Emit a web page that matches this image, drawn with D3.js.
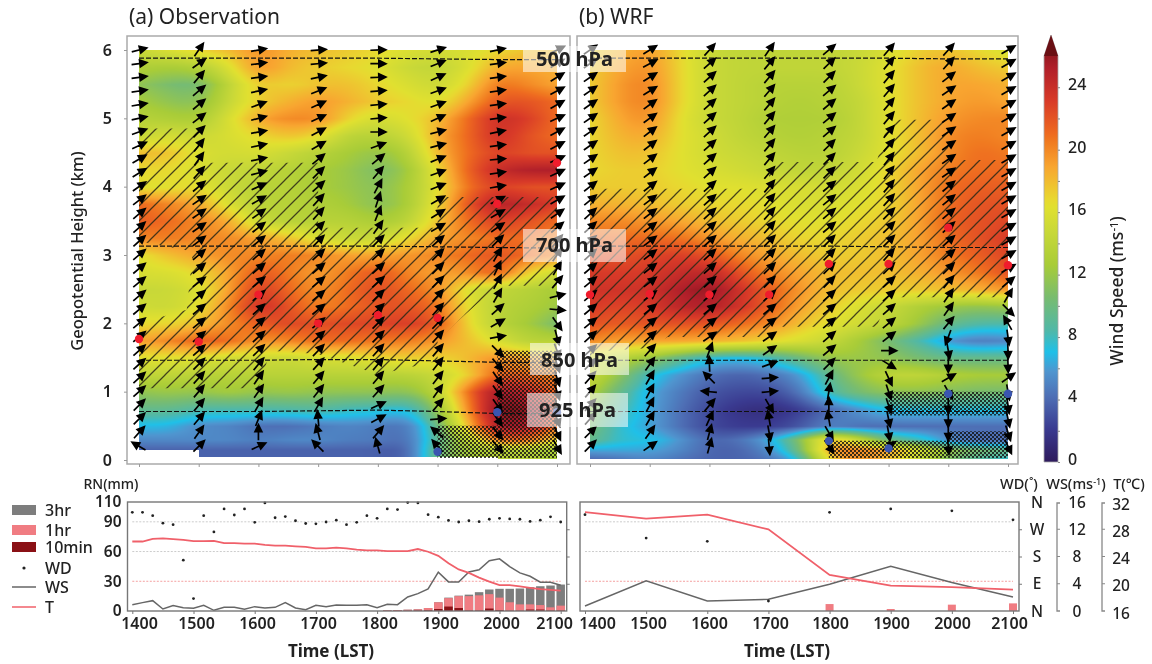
<!DOCTYPE html>
<html>
<head>
<meta charset="utf-8">
<script src="https://cdn.jsdelivr.net/npm/d3@7"></script>
<style>
	body { margin: 0; background: #fff; }
	#wrap { position: relative; width: 1152px; height: 664px; overflow: hidden; }
	canvas, svg { position: absolute; left: 0; top: 0; }
	text { font-family: "Noto Sans", "Open Sans", sans-serif; fill: #222; }
</style>
</head>
<body>
<div id="wrap">
	<canvas id="heat" width="1152" height="664"></canvas>
	<svg id="chart" width="1152" height="664"></svg>
</div>
<script>
// grid rows, top to bottom (km), columns every 30 min from 1400 to 2100
const GRID_HEIGHTS = [6, 5.75, 5.5, 5.25, 5, 4.75, 4.5, 4.25, 4, 3.75, 3.5, 3.25, 3, 2.75, 2.5, 2.25, 2, 1.75, 1.5, 1.25, 1, 0.75, 0.5, 0.3, 0.15, 0];

const OBS_SPEED = [
	[14,15,16,17,19,17.5,17,16.5,16,15,14.5,15,16,17,17],
	[12.5,12,12.5,15,19,17,16.5,16,15.5,14,13.5,15,18,18,17.5],
	[11,10,9.5,13.5,17,16,17,17,16,15,14,16,20,19,18],
	[12,11,10.5,14,16.5,17.5,18.5,17.5,16.5,16,15,18,21,21,20],
	[13,12.5,12,15,18,19,19,16,14.5,15.5,17,20,23,22,20],
	[14,15,14,15,16,17,16,13,13,14,18,20,23,21,20],
	[17,17,15,14.5,15,14,13,12,11,12.5,17.5,20,22,21,21],
	[16,16,15,14,13.5,13,12,11.5,10,11.5,16,20.5,23,24,24],
	[15.5,15.5,16,14,13,13,12,11.5,10.5,12,15.5,20,22,21,21],
	[20,19,18,15,13,13,12.5,12,10.5,12,16,21,24,23,22],
	[20.5,20,19,18,14,13,13,13,12,13,17,20,22,21,20],
	[19,19.5,19,19,18,17,15,14,14,16,18,19,20,20,19],
	[15.5,17,18,19,19,19.5,19,18,18,18.5,19,20,21,20,19],
	[15,15,16,18,21,19.5,18,19.5,21,19,18,18.5,21,16,14.5],
	[14,14,15,18,22.5,20,18.5,20,21.5,20,19,15,13.5,13,12],
	[14.5,14,15.5,19,23,21,19,20,21,21,20,15.5,13,12.5,11.5],
	[16,16,17,19,20.5,21.5,21,21.5,21.5,22,21,16,13,12,10],
	[18,19,20.5,20,18.5,19,20,20,19.5,19.5,18.5,17,15,13,13],
	[15.5,15.5,15.5,14.5,14.5,14,15,15,16,16.5,16,17,19,17.5,17.5],
	[13.5,13.5,13,13,13,13,13,13,13,13,14,16,21,20,19],
	[11,11.5,11,12,11,11.5,11,11,11,10.5,13,20,25,23,20],
	[9,9,8,8,8,8,8.5,7.5,7.5,6.5,11,19,26,25,21],
	[6.5,6.5,5,5,4,4,4.5,5,4.5,4,9,17,25,24,20],
	[5,5,5,5,4.5,5,5,4.5,4.5,3.5,9,13,20,20,16],
	[3.5,3.5,3.5,3.5,3.5,3.5,3.5,3.5,3.5,3,10,12,13,13,12],
	[3.5,3.5,3.5,3.5,3.5,3.5,3.5,3.5,3.5,3,10,12,13,13,12]
];

const WRF_SPEED = [
	[16,17.5,18.5,16,14,13.5,13.5,13.5,13.5,14,15,16.5,17,16,15],
	[16.5,18,19,16,14,13.5,13.5,13.5,13.5,14,15.5,17,18,17,16.5],
	[16.5,18.5,19.5,16,14,13.5,13,13,13,14,15.5,17,18,18,17.5],
	[16.5,18.5,19.5,16,14,13.5,13,12.5,13,13.5,15.5,17,18,18.5,18],
	[16,18,19,15.5,14,13.5,12.5,12.5,12.5,13.5,15.5,17,18.5,19,19],
	[16,17.5,18,15.5,14.5,13.5,13,12.5,13,13.5,15.5,17,19,19.5,19],
	[16,17,17,15.5,14.5,14,13.5,13,13,14,15.5,17,19,20,19.5],
	[16,16.5,16.5,15.5,15,14.5,14,13.5,13.5,14.5,16,18,19.5,20,20],
	[16.5,16.5,16.5,16,15.5,15.5,15,15,14.5,15,16,18,20,20.5,20.5],
	[17.5,17.5,17,16.5,16,16,15.5,15,15,15.5,16,18,20,21,21],
	[19,19,18.5,18,17,16.5,16,15.5,15.5,16,16.5,18,20.5,21,21.5],
	[20,20,20,20,18.5,17.5,17,16,16,16.5,17,18,20,21,22],
	[21,21,21.5,22,21,19,18,17,16.5,16.5,17,18,19.5,20.5,21.5],
	[22,22,22,23,23.5,21,19,18,17,17,17,17.5,18.5,19.5,21],
	[22.5,22.5,22.5,24,25,22.5,20.5,18.5,17,16.5,16.5,16.5,17,17.5,18.5],
	[22,21.5,22,23.5,24,22.5,20.5,18,16.5,15,14,12.5,11.5,11,11.5],
	[21,20.5,21,21,21,20,19,17,15.5,14.5,13.5,11.5,9,8,8],
	[19,18,18,18,17.5,17,16,15,14,12,10,8,5.5,4.5,5],
	[14.5,13,11.5,9,7,6.5,7.5,9.5,11.5,11.5,11,10,9,9,9],
	[14,11,7,5.5,4,3.5,4,5.5,9,11.5,13.5,13.5,12.5,12,12],
	[12.5,9,6,4.5,3,2.5,2.5,4,8,10,11,11,10.5,10,10],
	[11,8,6,4,2.5,1.5,1.2,2,4,5.5,7,7,7,7,7],
	[10,7,6,4,2.5,2,2,3,5,4,4,4,4,4,4],
	[9,7,7,5.5,3.5,4,6,10,18,14,9,8,5,4,4],
	[6,6,6,5,3.5,3.5,5,9,19,19,18,15,11,10,9],
	[3.5,4,5,4,3.5,3.5,4,6,17,19,17,14,10,8,7]
];

// wind arrows: one list per hour, bottom to top, screen angle in degrees
const OBS_WIND = [
	[150,48,45,45,42,42,42,42,40,40,40,40,40,40,40,42,42,40,38,35,32,30,25,20,12,10,8,8,8,15],
	[45,55,50,50,50,48,45,42,40,40,40,40,38,40,40,38,35,35,35,40,48,55,52,45,38,40,40,50,35,55],
	[25,90,68,60,55,55,50,45,42,42,42,40,40,40,40,40,38,36,30,25,15,12,12,10,15,20,12,8,8,10],
	[135,105,95,60,52,50,48,46,42,40,40,40,40,40,42,45,45,48,48,42,45,40,30,28,25,25,22,12,5,5],
	[105,50,28,25,48,50,50,48,45,45,45,45,42,42,42,45,55,68,72,62,50,40,20,0,5,5,5,2,0,2],
	[130,140,5,50,55,52,52,50,48,46,48,48,45,45,45,42,30,32,30,22,20,22,15,15,25,20,20,25,22,18],
	[-50,-52,-55,-55,-55,-55,-50,-45,10,30,42,60,62,65,60,45,35,30,28,10,8,5,8,12,8,8,8,8,8,12],
	[-60,-65,-70,-72,-72,-72,-72,-70,-75,-55,-5,15,50,60,55,50,40,35,30,25,25,25,28,28,25,30,28,32,32,25]
];

const WRF_WIND = [
	[45,45,48,48,50,48,45,42,42,40,40,40,40,40,42,42,42,42,40,38,35,35,35,35,35,35,35,35,35,35],
	[35,55,60,62,62,60,55,48,42,40,40,38,38,38,38,38,38,38,38,38,38,38,38,38,36,36,32,32,28,32],
	[75,75,65,50,175,135,92,70,35,38,40,40,42,42,42,42,42,42,42,42,42,42,42,42,42,42,42,42,42,48],
	[-85,-80,100,-60,5,5,20,35,35,38,40,42,45,45,45,45,48,48,50,50,50,50,50,50,50,50,50,50,50,55],
	[-55,-60,100,90,80,62,45,40,40,40,40,42,45,45,45,45,40,40,40,40,45,45,45,40,40,40,40,45,45,40],
	[35,-80,-78,-72,-72,-65,-32,0,38,40,42,42,42,45,48,45,45,45,48,50,52,52,50,50,50,50,50,50,50,50],
	[-85,-90,-90,-90,-60,30,-90,-80,-110,50,55,55,50,45,40,42,42,40,40,40,35,35,35,35,35,35,35,38,48,48],
	[-65,-72,-78,-82,-80,35,-88,-88,-82,120,-45,60,40,30,30,30,30,30,30,30,30,30,30,30,30,30,30,30,30,30]
];

const HOURS = [1400, 1500, 1600, 1700, 1800, 1900, 2000, 2100];

// max wind speed height and the low level jet height
const OBS_RED = [1.77, 1.73, 2.42, 2.0, 2.12, 2.08, 3.75, 4.35];
const WRF_RED = [2.42, 2.43, 2.42, 2.42, 2.87, 2.87, 3.4, 2.85];
const OBS_BLUE = [[1900, 0.12], [2000, 0.7], [2100, 0.7]];
const WRF_BLUE = [[1800, 0.28], [1900, 0.17], [2000, 0.97], [2100, 0.97]];

// pressure levels
const LEVEL_NAMES = ["500 hPa", "700 hPa", "850 hPa", "925 hPa"];
const OBS_LEVELS = [
	[5.88,5.88,5.88,5.88,5.88,5.87,5.86,5.86],
	[3.13,3.13,3.13,3.13,3.13,3.12,3.11,3.1],
	[1.46,1.46,1.46,1.47,1.47,1.45,1.43,1.43],
	[0.71,0.71,0.71,0.72,0.73,0.71,0.68,0.68]
];
const WRF_LEVELS = [
	[5.88,5.88,5.88,5.88,5.88,5.88,5.87,5.87],
	[3.13,3.13,3.13,3.13,3.13,3.12,3.11,3.11],
	[1.46,1.46,1.46,1.46,1.46,1.46,1.46,1.46],
	[0.71,0.71,0.71,0.71,0.71,0.71,0.71,0.71]
];

// hatched areas [time, km]
const OBS_JET = [[1400,1.05],[1400,2.0],[1480,2.2],[1490,3.05],[1400,3.2],[1400,4.85],[1500,4.85],[1500,4.35],[1700,4.35],[1700,3.4],[1900,3.4],[1900,3.85],[2100,3.85],[2100,2.55],[2000,2.55],[1930,2.0],[1900,1.75],[1900,1.45],[1800,1.25],[1700,1.55],[1620,1.6],[1600,1.05]];
const WRF_JET = [[1400,1.5],[1400,3.97],[1700,3.97],[1700,4.36],[1880,4.36],[1900,4.98],[2000,4.98],[2000,4.39],[2100,4.39],[2100,2.38],[1900,2.38],[1880,1.95],[1720,1.95],[1700,1.8],[1530,1.8],[1500,1.64],[1430,1.6]];
const OBS_LLJ = [[[1900,0.03],[1900,0.5],[2000,0.5],[2000,1.6],[2100,1.6],[2100,0.03]]];
const WRF_LLJ = [
	[[1800,0.03],[1800,0.28],[2000,0.28],[2000,0.42],[2100,0.42],[2100,0.03]],
	[[1900,0.65],[1900,1.0],[2100,1.0],[2100,0.65]]
];

// surface obs, every 10 min from 1400
const OBS_WD = [326,326,315,290,285,168,41,315,261,337,317,337,293,357,308,312,298,289,288,294,300,285,293,315,306,337,335,358,357,318,310,299,294,298,295,303,306,304,303,296,300,311,294];
const OBS_WS = [0.93,1.23,1.52,0.29,0.79,0.49,0.39,0.83,0.1,0.54,0.54,0.25,0.64,0.44,0.54,1.23,0.44,0.2,0.83,0.64,0.88,0.83,0.83,0.93,0.49,0.98,0.93,2.06,2.55,3.24,5.7,4.27,4.27,5.74,6.04,7.37,7.66,6.53,5.6,5.1,4.22,4.22,3.78];
const OBS_T = [26.2,26.2,26.6,26.65,26.55,26.45,26.25,26.25,26.3,25.96,25.96,25.9,25.9,25.7,25.6,25.6,25.5,25.4,25.2,25.2,25.3,25.2,25,24.9,24.9,24.8,24.8,24.8,25.1,24.7,24.1,23,22.1,21.6,20.9,20.3,19.8,19.8,19.6,19.4,19.2,19.1,19];
// rain starts at 1810
const RAIN_3HR = [0.7,1,1.3,1.7,3,8.8,13.5,15.5,16.5,19,21.7,22.4,22.4,22.7,24,25,25.7,26.7];
const RAIN_1HR = [0.7,1,1.3,1.7,3,8.8,13,15,15,15.8,17,13.5,8.8,6.7,6.7,6,3.7,5.4];
const RAIN_10MIN = [0.2,0.3,0.3,0.5,0.8,2,4.5,3,0.5,0.5,2.5,1,0.3,0.3,1.5,1.5,0.5,0.5];

// WRF surface, hourly
const WRF_WD = [318,241,230,33,326,337,331,301];
const WRF_WS = [0.74,4.42,1.47,1.72,3.93,6.58,4.17,2.06];
const WRF_T = [30.5,29.55,30.15,27.98,21.3,19.73,19.49,19.14];
const WRF_RAIN = [0,0,0,0,7,2,6.4,7.7];

const COLOR_STOPS = [0, 2, 4, 5.5, 6.7, 8, 10, 12, 14, 15.5, 16, 18, 19.5, 20, 22, 24, 26];
const COLORS = ["#2e1a5c","#3a3a90","#4e6fb5","#4f95cf","#1fc0e8","#50b8a8","#78bc70","#a8cc38","#c8d838","#e0e030","#e8d830","#f8a530","#f07a20","#ee6a20","#d83a28","#b01f2a","#6a0f14"];
const SPEED_COLOR = d3.scaleLinear().domain(COLOR_STOPS).range(COLORS).clamp(true);

const RN_TICKS = [0, 30, 60, 90, 110];
const COLORBAR_TICKS = [0, 4, 8, 12, 16, 20, 24];
const COMPASS = ["N", "E", "S", "W", "N"];

const svg = d3.select("#chart");
const ctx = document.getElementById("heat").getContext("2d");

const defs = svg.append("defs");
const jetPattern = defs.append("pattern")
	.attr("id", "jetHatch")
	.attr("patternUnits", "userSpaceOnUse")
	.attr("width", 15).attr("height", 15);
jetPattern.append("path")
	.attr("d", "M-2,17 L17,-2 M-2,2 L2,-2 M13,17 L17,13")
	.attr("stroke", "#2a2716").attr("stroke-width", 1.25).attr("opacity", 0.85);
const lljPattern = defs.append("pattern")
	.attr("id", "lljHatch")
	.attr("patternUnits", "userSpaceOnUse")
	.attr("width", 4).attr("height", 4);
lljPattern.append("path").attr("d", "M0,0h2v2h-2z M2,2h2v2h-2z").attr("fill", "#111").attr("opacity", 0.8);

function drawHeat(grid, x, y, floorOf) {
	const rows = grid.map((row) => d3.interpolateBasis(row));
	const [x0, x1] = x.range();
	const hs = GRID_HEIGHTS.slice().reverse();
	const left = Math.round(x0), right = Math.round(x1);
	const top = Math.round(y(6)), bottom = Math.round(y(0));
	const img = ctx.createImageData(right - left, bottom - top);
	for (let px = left; px < right; px++) {
		const t = (px - x0) / (x1 - x0);
		const col = rows.map((f) => f(t)).reverse();
		const floor = floorOf(x.invert(px));
		for (let py = top; py < bottom; py++) {
			const h = y.invert(py);
			if (h < floor) continue;
			const i = Math.min(Math.max(d3.bisectRight(hs, h), 1), hs.length - 1);
			const a = Math.min((h - hs[i - 1]) / (hs[i] - hs[i - 1]), 1);
			const c = d3.rgb(SPEED_COLOR(col[i - 1] + (col[i] - col[i - 1]) * a));
			const k = ((py - top) * (right - left) + (px - left)) * 4;
			img.data[k] = c.r; img.data[k + 1] = c.g; img.data[k + 2] = c.b; img.data[k + 3] = 255;
		}
	}
	ctx.putImageData(img, left, top);
}

function drawUpper(p) {
	const x = d3.scaleLinear().domain([1400, 2100]).range(p.xRange);
	const y = d3.scaleLinear().domain([0, 6]).range([460, 50]);
	const g = svg.append("g");

	drawHeat(p.grid, x, y, p.floorOf);

	g.append("rect").attr("x", p.frame[0]).attr("y", 36)
		.attr("width", p.frame[1] - p.frame[0]).attr("height", 428)
		.attr("fill", "none").attr("stroke", "#aaa").attr("stroke-width", 1.5);

	const poly = d3.line().x((d) => x(d[0])).y((d) => y(d[1]));
	g.append("path").attr("d", poly(p.jet) + "Z").attr("fill", "url(#jetHatch)");
	p.llj.forEach((area) => {
		g.append("path").attr("d", poly(area) + "Z").attr("fill", "url(#lljHatch)");
	});

	// pressure levels
	p.levels.forEach((lvl) => {
		g.append("path")
			.attr("d", d3.line().x((d, i) => x(HOURS[i])).y((d) => y(d))(lvl))
			.attr("fill", "none").attr("stroke", "#111").attr("stroke-width", 1.2)
			.attr("stroke-dasharray", "5,2");
	});

	// wind arrows
	p.wind.forEach((column, c) => {
		column.forEach((angle, r) => {
			const cx = x(HOURS[c]);
			const cy = y(0.2 + 0.2 * r);
			g.append("path")
				.attr("d", "M-7.5,0 L2,0 M1,-3.4 L8,0 L1,3.4 Z")
				.attr("transform", "translate(" + cx + "," + cy + ") rotate(" + (-angle) + ")")
				.attr("stroke", "#000").attr("stroke-width", 1.7).attr("fill", "#000");
		});
	});

	// jet core points
	g.selectAll(".red").data(p.red).join("circle")
		.attr("cx", (d, i) => x(HOURS[i])).attr("cy", (d) => y(d))
		.attr("r", 4.2).attr("fill", "#f01c2c");
	g.selectAll(".blue").data(p.blue).join("circle")
		.attr("cx", (d) => x(d[0])).attr("cy", (d) => y(d[1]))
		.attr("r", 4.2).attr("fill", "#3a55b0");

	// ticks
	const xAxis = d3.axisBottom(x).tickValues(HOURS).tickSize(3).tickFormat("");
	const ax = g.append("g").attr("transform", "translate(0,464)").call(xAxis);
	ax.select(".domain").remove();
	ax.selectAll("line").attr("stroke", "#999");
	if (p.showY) {
		const yAxis = d3.axisLeft(y).ticks(6).tickSize(3).tickPadding(12).tickFormat(d3.format("d"));
		const ay = g.append("g").attr("transform", "translate(" + p.frame[0] + ",0)").call(yAxis);
		ay.select(".domain").remove();
		ay.selectAll("line").attr("stroke", "#999");
		ay.selectAll("text").attr("font-size", 16).attr("font-weight", 600).style("font-family", "'Noto Sans'");
	}
}

function drawLower(p) {
	const x = d3.scaleLinear().domain([1400, 2100]).range(p.xRange);
	const minutes = (i) => 1400 + i * (p.step / 60) * 100;
	const yRn = d3.scaleLinear().domain([0, 110]).range([611, 502]);
	const yWd = d3.scaleLinear().domain([0, 360]).range([611, 502]);
	const yWs = d3.scaleLinear().domain([0, 16]).range([611, 502]);
	const yT = d3.scaleLinear().domain([16, 32]).range([611, 502]);
	const g = svg.append("g");

	[90, 60, 30].forEach((v) => {
		g.append("line").attr("x1", p.xRange[0]).attr("x2", p.xRange[1])
			.attr("y1", yRn(v)).attr("y2", yRn(v))
			.attr("stroke", v == 30 ? "#f4a0a0" : "#ccc").attr("stroke-width", 1)
			.attr("stroke-dasharray", "2,1.5");
	});

	// rain bars, largest drawn first
	p.rain.forEach((series) => {
		g.selectAll(null).data(series.values).join("rect")
			.attr("x", (d, i) => x(minutes(series.start + i)) - p.barWidth / 2)
			.attr("y", (d) => yRn(d))
			.attr("width", p.barWidth)
			.attr("height", (d) => 611 - yRn(d))
			.attr("fill", series.color);
	});

	const line = (scale) => d3.line().x((d, i) => x(minutes(i))).y((d) => scale(d));
	g.append("path").attr("d", line(yWs)(p.ws)).attr("fill", "none")
		.attr("stroke", "#666").attr("stroke-width", 1.5);
	g.append("path").attr("d", line(yT)(p.t)).attr("fill", "none")
		.attr("stroke", "#f0606a").attr("stroke-width", 1.8);
	g.selectAll(null).data(p.wd).join("circle")
		.attr("cx", (d, i) => x(minutes(i))).attr("cy", (d) => yWd(d))
		.attr("r", 1.4).attr("fill", "#222");

	g.append("rect").attr("x", p.frame[0]).attr("y", 502)
		.attr("width", p.frame[1] - p.frame[0]).attr("height", 109)
		.attr("fill", "none").attr("stroke", "#777").attr("stroke-width", 1.4);

	const xAxis = d3.axisBottom(x).tickValues(HOURS).tickSize(3).tickFormat(d3.format("d"));
	const ax = g.append("g").attr("transform", "translate(0,611)").call(xAxis);
	ax.select(".domain").remove();
	ax.selectAll("line").attr("stroke", "#777");
	ax.selectAll("text")
		.attr("font-size", 16).attr("font-weight", 600).attr("y", 7)
		.attr("x", (d, i) => p.labelXs[i] - x(d))
		.style("font-family", "'Noto Sans'");

	const rightTicks = d3.axisRight(yWd).tickValues([90, 180, 270]).tickSize(3).tickFormat("");
	const ar = g.append("g").attr("transform", "translate(" + p.frame[1] + ",0)").call(rightTicks);
	ar.select(".domain").remove();
	ar.selectAll("line").attr("stroke", "#777");

	g.append("text").attr("x", p.labelX).attr("y", 657).attr("text-anchor", "middle")
		.attr("font-size", 17).attr("font-weight", 700).text("Time (LST)");
}

drawUpper({
	xRange: [139, 557], frame: [127, 570], grid: OBS_SPEED, wind: OBS_WIND, red: OBS_RED, blue: OBS_BLUE,
	levels: OBS_LEVELS, jet: OBS_JET, llj: OBS_LLJ, showY: true,
	floorOf: (t) => t < 1500 ? 0.15 : (t < 2000 ? 0.05 : 0.02)
});
drawUpper({
	xRange: [590, 1008], frame: [577, 1018], grid: WRF_SPEED, wind: WRF_WIND, red: WRF_RED, blue: WRF_BLUE,
	levels: WRF_LEVELS, jet: WRF_JET, llj: WRF_LLJ, showY: false,
	floorOf: () => 0.02
});

// pressure labels sit over both panels
const LABEL_BOXES = [[523,46,103,26,58.5], [523,229,103,33,245], [530,343,99,32,360], [527,393,101,34,410]];
LEVEL_NAMES.forEach((name, i) => {
	const b = LABEL_BOXES[i];
	svg.append("rect").attr("x", b[0]).attr("y", b[1]).attr("width", b[2]).attr("height", b[3])
		.attr("fill", "#fff").attr("opacity", 0.55);
	svg.append("text").attr("x", b[0] + b[2] / 2).attr("y", b[4]).attr("dy", "0.36em")
		.attr("text-anchor", "middle").attr("font-size", 20).attr("font-weight", 700)
		.attr("fill", "#111").text(name);
});

svg.append("text").attr("x", 129).attr("y", 24).attr("font-size", 21).text("(a) Observation");
svg.append("text").attr("x", 579).attr("y", 24).attr("font-size", 21).text("(b) WRF");
svg.append("text").attr("transform", "translate(83,251) rotate(-90)").attr("text-anchor", "middle")
	.attr("font-size", 16.5).attr("font-weight", 500).text("Geopotential Height (km)");

// colorbar
const C_SCALE = d3.scaleLinear().domain([0, 26]).range([462, 56]);
const grad = defs.append("linearGradient").attr("id", "cbar")
	.attr("x1", 0).attr("x2", 0).attr("y1", 1).attr("y2", 0);
COLOR_STOPS.forEach((s, i) => {
	grad.append("stop").attr("offset", s / 26).attr("stop-color", COLORS[i]);
});
svg.append("path")
	.attr("d", "M1044," + C_SCALE(0) + " V" + C_SCALE(26) + " L1051,35 L1058," + C_SCALE(26) + " V" + C_SCALE(0) + " Z")
	.attr("fill", "url(#cbar)").attr("stroke", "#aaa").attr("stroke-width", 0.8);
svg.append("path")
	.attr("d", "M1044," + C_SCALE(26) + " L1051,35 L1058," + C_SCALE(26) + " Z").attr("fill", "#6a0f14");
const cAxis = d3.axisRight(C_SCALE).tickValues(d3.range(0, 26, 2)).tickSize(2).tickPadding(8)
	.tickFormat((d) => COLORBAR_TICKS.includes(d) ? d : "");
const cg = svg.append("g").attr("transform", "translate(1058,0)").call(cAxis);
cg.select(".domain").remove();
cg.selectAll("line").attr("stroke", "#888");
cg.selectAll("text").attr("font-size", 16).attr("font-weight", 500).attr("dy", "0.15em").style("font-family", "'Noto Sans'");
const cbTitle = svg.append("text").attr("transform", "translate(1123,291) rotate(-90)")
	.attr("text-anchor", "middle").attr("font-size", 17.5).attr("font-weight", 500);
cbTitle.append("tspan").text("Wind Speed (ms");
cbTitle.append("tspan").attr("dy", -5).attr("font-size", 11).text("-1");
cbTitle.append("tspan").attr("dy", 5).text(")");

// lower panels
drawLower({
	xRange: [132.3, 560.7], frame: [127.5, 566.7], step: 10, barWidth: 8.5,
	wd: OBS_WD, ws: OBS_WS, t: OBS_T, labelX: 331,
	labelXs: [139, 196, 257, 318, 379, 440, 501, 554],
	rain: [
		{values: RAIN_3HR, start: 25, color: "#7d7d7d"},
		{values: RAIN_1HR, start: 25, color: "#f07c82"},
		{values: RAIN_10MIN, start: 25, color: "#8a1015"}
	]
});
drawLower({
	xRange: [585, 1013], frame: [580, 1019], step: 60, barWidth: 8,
	wd: WRF_WD, ws: WRF_WS, t: WRF_T, labelX: 787,
	labelXs: [597, 648, 709, 770, 830, 891, 952, 1009],
	rain: [{values: WRF_RAIN, start: 0, color: "#f07c82"}]
});

const rnAxis = d3.axisLeft(d3.scaleLinear().domain([0, 110]).range([611, 502]))
	.tickValues(RN_TICKS).tickSize(0).tickPadding(6);
const rnG = svg.append("g").attr("transform", "translate(127.5,0)").call(rnAxis);
rnG.select(".domain").remove();
rnG.selectAll("text").attr("font-size", 15.5).attr("font-weight", 600).style("font-family", "'Noto Sans'");
svg.append("text").attr("x", 111).attr("y", 489).attr("text-anchor", "middle")
	.attr("font-size", 14).attr("font-weight", 500).text("RN(mm)");

// right side axes
function bracket(xPos, labelX, labels, shift) {
	const s = d3.scaleLinear().domain([0, labels.length - 1]).range([611, 502]);
	svg.append("path")
		.attr("d", "M" + (xPos + 3) + ",503 H" + xPos + " V611 H" + (xPos + 3))
		.attr("fill", "none").attr("stroke", "#888").attr("stroke-width", 1.3);
	labels.forEach((l, i) => {
		if (i > 0 && i < labels.length - 1) {
			svg.append("line").attr("x1", xPos).attr("x2", xPos + 3).attr("y1", s(i)).attr("y2", s(i))
				.attr("stroke", "#888");
		}
		svg.append("text").attr("x", labelX).attr("y", s(i) + shift).attr("dy", "0.36em")
			.attr("text-anchor", "middle").attr("font-size", 15.5).attr("font-weight", 500).text(l);
	});
}
COMPASS.forEach((l, i) => {
	svg.append("text").attr("x", 1037).attr("y", 611 - i * 27.25).attr("dy", "0.36em")
		.attr("text-anchor", "middle").attr("font-size", 15.5).attr("font-weight", 500).text(l);
});
bracket(1057, 1077, [0, 4, 8, 12, 16], 0);
bracket(1102, 1121, [16, 20, 24, 28, 32], 2);

svg.append("text").attr("x", 1019).attr("y", 489).attr("text-anchor", "middle")
	.attr("font-size", 14.5).attr("font-weight", 500).text("WD(˚)");
const wsTitle = svg.append("text").attr("x", 1076).attr("y", 489).attr("text-anchor", "middle")
	.attr("font-size", 14.5).attr("font-weight", 500);
wsTitle.append("tspan").text("WS(ms");
wsTitle.append("tspan").attr("dy", -4).attr("font-size", 9).text("-1");
wsTitle.append("tspan").attr("dy", 4).text(")");
svg.append("text").attr("x", 1129).attr("y", 489).attr("text-anchor", "middle")
	.attr("font-size", 14.5).attr("font-weight", 500).text("T(℃)");

// legend
const LEGEND = ["3hr", "1hr", "10min", "WD", "WS", "T"];
const LEGEND_Y = [510, 530, 547, 568, 587, 607];
LEGEND.forEach((name, i) => {
	const ly = LEGEND_Y[i];
	if (i < 3) {
		svg.append("rect").attr("x", 12).attr("y", ly - 5).attr("width", 24).attr("height", 10)
			.attr("fill", ["#7d7d7d", "#f07c82", "#8a1015"][i]);
	} else if (name == "WD") {
		svg.append("circle").attr("cx", 24).attr("cy", ly).attr("r", 1.6).attr("fill", "#222");
	} else {
		svg.append("line").attr("x1", 12).attr("x2", 36).attr("y1", ly).attr("y2", ly)
			.attr("stroke", name == "WS" ? "#666" : "#f0606a").attr("stroke-width", 1.5);
	}
	svg.append("text").attr("x", 45).attr("y", ly).attr("dy", "0.36em")
		.attr("font-size", 16).attr("font-weight", 500).text(name);
});
</script>
</body>
</html>
